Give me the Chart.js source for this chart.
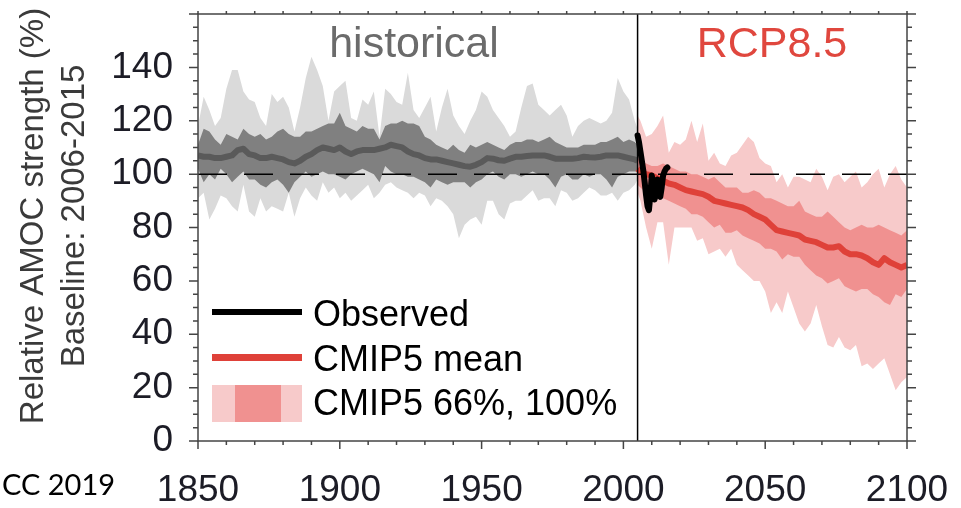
<!DOCTYPE html>
<html><head><meta charset="utf-8">
<script src="https://cdn.jsdelivr.net/npm/chart.js@4.4.1/dist/chart.umd.min.js"></script>
<style>html,body{margin:0;padding:0;background:#fff;}canvas{display:block;}</style>
</head><body>
<canvas id="c" width="961" height="508"></canvas>
<script>
// ---------- DATA ----------
const histYears = [
1850,1852,1854,1856,1858,1860,1862,1864,1866,1868,
1870,1872,1874,1876,1878,1880,1882,1884,1886,1888,
1890,1892,1894,1896,1898,1900,1902,1904,1906,1908,
1910,1912,1914,1916,1918,1920,1922,1924,1926,1928,
1930,1932,1934,1936,1938,1940,1942,1944,1946,1948,
1950,1952,1954,1956,1958,1960,1962,1964,1966,1968,
1970,1972,1974,1976,1978,1980,1982,1984,1986,1988,
1990,1992,1994,1996,1998,2000,2002,2004,2005];
const histMax = [
118,129,124,118,121,132,139,139,131,128,
127,121,118,130,127,129,125,116,125,136,
144,139,133,120,131,133,135,121,120,128,
126,131,114,132,130,127,126,138,124,121,
125,129,116,125,132,122,118,115,120,124,
131,129,124,121,118,114,116,125,133,134,
126,124,122,124,126,122,114,118,120,121,
120,119,120,123,136,131,128,120,117];
const histP66hi = [
111,117,116,113,111,115,114,113,117,115,
114,115,113,114,116,117,115,114,114,116,
116,117,118,119,119,123,118,117,116,118,
117,117,113,118,119,119,120,119,119,118,
114,113,111,110,109,111,109,108,111,110,
111,112,111,110,109,111,112,112,113,113,
112,113,114,112,111,110,110,110,111,111,
111,112,112,113,114,112,113,112,111];
const histMean = [
107,106.5,106.5,106,106,106.5,107,109,109.5,107.5,
107,106,106,106.5,106,105.5,104.5,104,105,106.5,
107.5,109,110,109.5,109,110,108.5,107.5,108.5,109,
109,109,109.5,110,111,110.5,110,108.5,107.5,107,
106,105.5,105.5,105,104.5,104,103.5,103,102.8,103.5,
104.5,106,105.8,105.2,105,105.8,106.5,106.5,106.8,107,
107,107,106.5,105.8,105.8,105.8,105.8,106,106.5,106.3,
106.2,106.5,107,107,107,106.5,106,105.5,105];
const histP66lo = [
102,97,100,98,102,100,97,99,101,98,
98,96,95,97,98,96,93,97,99,101,
99,100,101,100,100,99,98,100,101,102,
101,100,97,103,101,100,100,99,99,98,
97,95,98,97,96,97,97,97,95,97,
98,100,101,99,98,100,100,99,100,101,
100,100,98,95,99,100,98,98,100,99,
100,100,98,95,99,100,101,101,101];
const histMin = [
91,93,83,87,92,91,88,86,96,86,
84,91,86,88,87,86,93,84,91,95,
92,90,97,93,95,91,93,90,92,94,
96,91,93,96,97,95,94,93,91,93,
92,88,91,90,88,85,76,81,83,84,
81,90,90,85,83,89,90,90,92,94,
90,91,91,88,94,93,90,91,93,95,
94,92,92,93,90,93,94,96,98];

const futYears = [
2005,2006,2008,2010,2012,2014,2016,2018,2020,2022,
2024,2026,2028,2030,2032,2034,2036,2038,2040,2042,
2044,2046,2048,2050,2052,2054,2056,2058,2060,2062,
2064,2066,2068,2070,2072,2074,2076,2078,2080,2082,
2084,2086,2088,2090,2092,2094,2096,2098,2100];
const futMax = [
122,120,114,115,118,122,108,112,111,113,
120,112,119,105,108,104,103,107,108,111,
114,112,106,104,103,97,100,95,99,99,
98,97,102,99,94,99,100,97,99,101,
95,97,100,102,95,100,103,98,95];
const futP66hi = [
106,105,104,103,103,104,103,102,101,101,
100,100,99,98,99,97,95,95,95,93,
93,94,93,91,91,90,89,88,88,90,
86,85,84,84,86,84,82,80,79,80,
81,80,80,81,80,79,78,77,79];
const futMean = [
102,101,100,99.5,98.5,97.5,96.5,96,95,94,
93.5,93,92.5,91.5,90,89.5,89,88.5,88,87.5,
86.5,85,84,83,81,79,78.5,78,77.5,77,
75.5,75,74.5,73.5,72.5,72.5,73,71,70,70,
69.5,68.5,67,66,68.5,67,66,65,66];
const futP66lo = [
96,95,93,93,93,91,90,89,88,87,
85,85,84,82,80,81,78,78,79,77,
76,75,74,72,72,71,68,70,69,69,
66,64,62,61,59,60,61,58,57,56,
57,57,55,54,52,51,55,54,57];
const futMin = [
93,90,80,72,82,82,66,80,80,80,
80,75,76,70,71,72,69,72,66,64,
62,60,60,56,48,52,48,56,50,44,
41,44,51,43,36,35,39,35,34,36,
28,29,27,29,31,25,19,22,24];

const obsYears = [2005,2005.5,2006,2006.5,2007,2007.5,2008,2008.5,2009,2009.5,
  2010,2010.5,2011,2011.5,2012,2012.5,2013,2013.5,2014,2014.5,2015,2015.5];
const obsValues = [114.5,112,108.5,105,101.5,97,92,88,86.5,92,
  99.5,96,90.5,93,98,92.5,91.5,95,99.5,101,102,102.5];

const baselineValue = 100;
const scenarioSplitYear = 2005;
const xRange = [1850, 2100];
const yRange = [0, 160];
const xTickLabels = [1850, 1900, 1950, 2000, 2050, 2100];
const yTickLabels = [0, 20, 40, 60, 80, 100, 120, 140];
const yTitle = ['Relative AMOC strength (%)', 'Baseline: 2006-2015'];
const panelLabels = ['historical', 'RCP8.5'];
const legendLabels = ['Observed', 'CMIP5 mean', 'CMIP5 66%, 100%'];
const creditText = 'CC 2019';

// ---------- STYLE ----------
const C = {
  histLight: '#dadada', histDark: '#808080', histMean: '#5a5a5a',
  futLight: '#f7caca', futDark: '#f09190', futMean: '#df4139',
  obs: '#000000', axis: '#444444', tick: '#1c1c26', title: '#3a3a3a',
  histText: '#6b6b6b', rcpText: '#e0473e'
};
const FONT = "'Liberation Sans', Arial, Helvetica, sans-serif";
Chart.defaults.font.family = FONT;

const pts = (xs, ys) => xs.map((x, i) => ({x: x, y: ys[i]}));
const band = (xs, ys, color, fillTarget, order) => ({
  data: pts(xs, ys), borderColor: 'rgba(0,0,0,0)', borderWidth: 0,
  backgroundColor: color, fill: fillTarget, order: order, pointRadius: 0
});

const framePlugin = {
  id: 'frame',
  afterDatasetsDraw(chart) {
    const {ctx, chartArea: a, scales: {x, y}} = chart;
    ctx.save();
    ctx.strokeStyle = C.axis; ctx.lineWidth = 1.5;
    ctx.strokeRect(a.left, a.top, a.right - a.left, a.bottom - a.top);
    ctx.beginPath();
    const yMinorStep = 5, xMinorStep = 10;
    for (let v = yRange[0]; v <= yRange[1]; v += yMinorStep) {
      const py = y.getPixelForValue(v);
      const len = v % 20 === 0 ? 9 : 5;
      ctx.moveTo(a.left - len, py); ctx.lineTo(a.left, py);
      ctx.moveTo(a.right, py); ctx.lineTo(a.right + len, py);
    }
    for (let v = xRange[0]; v <= xRange[1]; v += xMinorStep) {
      const px = x.getPixelForValue(v);
      const len = v % 50 === 0 ? 8 : 4;
      ctx.moveTo(px, a.bottom); ctx.lineTo(px, a.bottom + len);
      ctx.moveTo(px, a.top); ctx.lineTo(px, a.top - 3);
    }
    ctx.stroke();
    ctx.restore();
  }
};

const textPlugin = {
  id: 'texts',
  afterDraw(chart) {
    const {ctx} = chart;
    ctx.save();
    ctx.fillStyle = C.title;
    ctx.font = '33px ' + FONT;
    ctx.textAlign = 'center'; ctx.textBaseline = 'alphabetic';
    [[43, yTitle[0]], [84, yTitle[1]]].forEach(([bx, t]) => {
      ctx.save(); ctx.translate(bx, 216); ctx.rotate(-Math.PI / 2);
      ctx.fillText(t, 0, 0); ctx.restore();
    });
    ctx.font = '43px ' + FONT;
    ctx.fillStyle = C.histText; ctx.fillText(panelLabels[0], 414, 57);
    ctx.fillStyle = C.rcpText; ctx.fillText(panelLabels[1], 772, 57);
    ctx.font = '29px Lato, ' + FONT;
    ctx.textAlign = 'left'; ctx.fillStyle = '#000';
    ctx.fillText(creditText, 2, 495);
    const lx = 212, lw = 90;
    ctx.fillStyle = C.obs; ctx.fillRect(lx, 309, lw, 6);
    ctx.fillStyle = C.futMean; ctx.fillRect(lx, 354, lw, 7);
    ctx.fillStyle = C.futLight; ctx.fillRect(lx, 385, lw, 37);
    ctx.fillStyle = C.futDark; ctx.fillRect(235, 385, 46, 37);
    ctx.fillStyle = '#000'; ctx.font = '36px ' + FONT;
    ctx.fillText(legendLabels[0], 313, 326);
    ctx.fillText(legendLabels[1], 313, 371);
    ctx.fillText(legendLabels[2], 313, 415);
    ctx.restore();
  }
};

new Chart(document.getElementById('c'), {
  type: 'line',
  data: {
    datasets: [
      {data: [{x: scenarioSplitYear, y: yRange[0]}, {x: scenarioSplitYear, y: yRange[1]}],
       borderColor: '#000', borderWidth: 1.5, pointRadius: 0, order: 0},
      {data: pts(obsYears, obsValues), borderColor: C.obs, borderWidth: 6, pointRadius: 0,
       borderJoinStyle: 'round', borderCapStyle: 'round', order: 1},
      {data: [{x: xRange[0], y: baselineValue}, {x: xRange[1], y: baselineValue}],
       borderColor: '#000', borderWidth: 1.5, borderDash: [29, 17], pointRadius: 0, order: 2},
      {data: pts(futYears, futMean), borderColor: C.futMean, borderWidth: 6, pointRadius: 0,
       borderJoinStyle: 'round', order: 3},
      band(futYears, futP66hi, C.futDark, 5, 4),
      band(futYears, futP66lo, 'rgba(0,0,0,0)', false, 4),
      band(futYears, futMax, C.futLight, 7, 5),
      band(futYears, futMin, 'rgba(0,0,0,0)', false, 5),
      {data: pts(histYears, histMean), borderColor: C.histMean, borderWidth: 6, pointRadius: 0,
       borderJoinStyle: 'round', order: 6},
      band(histYears, histP66hi, C.histDark, 10, 7),
      band(histYears, histP66lo, 'rgba(0,0,0,0)', false, 7),
      band(histYears, histMax, C.histLight, 12, 8),
      band(histYears, histMin, 'rgba(0,0,0,0)', false, 8)
    ]
  },
  options: {
    responsive: false, animation: false, devicePixelRatio: 1,
    layout: {autoPadding: false, padding: {left: 0, right: 54, top: 14, bottom: 0}},
    elements: {line: {tension: 0}, point: {radius: 0}},
    plugins: {legend: {display: false}, tooltip: {enabled: false}},
    scales: {
      x: {type: 'linear', min: xRange[0], max: xRange[1],
          grid: {display: false, drawTicks: false}, border: {display: false},
          ticks: {stepSize: 50, padding: 28, autoSkip: false, maxRotation: 0,
                  font: {size: 37}, color: C.tick,
                  callback: v => xTickLabels.includes(v) ? String(v) : null},
          afterFit: s => { s.height = 67; s.paddingLeft = 0; s.paddingRight = 0; }},
      y: {type: 'linear', min: yRange[0], max: yRange[1],
          grid: {display: false, drawTicks: false}, border: {display: false},
          ticks: {stepSize: 20, padding: 25, font: {size: 37}, color: C.tick,
                  callback: v => yTickLabels.includes(v) ? String(v) : null},
          afterFit: s => { s.width = 198; s.paddingTop = 0; s.paddingBottom = 0; }}
    }
  },
  plugins: [framePlugin, textPlugin]
});
</script>
</body></html>
